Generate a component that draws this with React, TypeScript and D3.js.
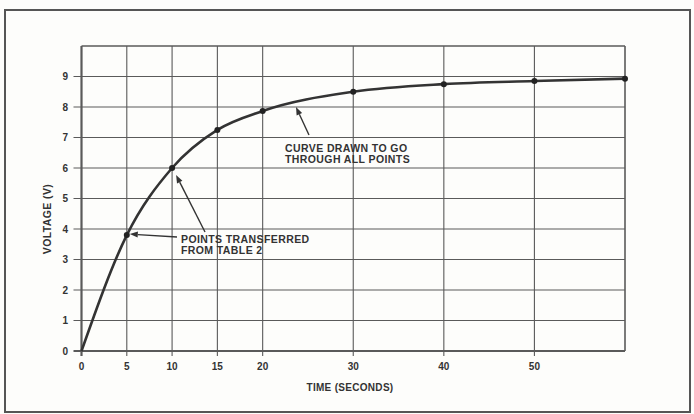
import React from "react";
import * as d3 from "d3";

const times = [0, 5, 10, 15, 20, 30, 40, 50, 60];
const volts = [0, 3.8, 6.0, 7.25, 7.87, 8.5, 8.75, 8.85, 8.93];
const xTicks = [0, 5, 10, 15, 20, 30, 40, 50];
const xTickLabels = ["0", "5", "10", "15", "20", "30", "40", "50"];
const yTicks = [0, 1, 2, 3, 4, 5, 6, 7, 8, 9];
const curveNote = ["CURVE DRAWN TO GO", "THROUGH ALL POINTS"];
const pointsNote = ["POINTS TRANSFERRED", "FROM TABLE 2"];
const xTitle = "TIME (SECONDS)";
const yTitle = "VOLTAGE (V)";

const W = 694;
const H = 414;
const left = 81.5;
const right = 625;
const top = 46;
const bottom = 351;

export default function App() {
  const x = d3.scaleLinear().domain([0, 60]).range([left, right]);
  const y = d3.scaleLinear().domain([0, 10]).range([bottom, top]);
  const pts = times.map((t, i) => [t, volts[i]] as [number, number]);
  const line = d3
    .line<[number, number]>()
    .x((d) => x(d[0]))
    .y((d) => y(d[1]))
    .curve(d3.curveMonotoneX);

  const ink = "#333";
  const grid = "#5a5a5a";
  const font = "'Liberation Sans', Arial, sans-serif";

  const arrow = (x1: number, y1: number, x2: number, y2: number, key: string) => {
    const ang = Math.atan2(y2 - y1, x2 - x1);
    const L = 8;
    const Wd = 3;
    const bx = x2 - L * Math.cos(ang);
    const by = y2 - L * Math.sin(ang);
    const px = -Math.sin(ang) * Wd;
    const py = Math.cos(ang) * Wd;
    return (
      <g key={key}>
        <line x1={x1} y1={y1} x2={bx} y2={by} stroke={ink} strokeWidth={1.4} />
        <polygon
          points={`${x2},${y2} ${bx + px},${by + py} ${bx - px},${by - py}`}
          fill={ink}
        />
      </g>
    );
  };

  return (
    <svg
      width={W}
      height={H}
      style={{ position: "absolute", left: 0, top: 0, background: "#fdfdfb" }}
    >
      <rect x={5} y={10} width={685} height={402} fill="none" stroke="#555" strokeWidth={2} />
      {yTicks.map((v) => (
        <line
          key={"h" + v}
          x1={left - 8}
          x2={right}
          y1={y(v)}
          y2={y(v)}
          stroke={grid}
          strokeWidth={v === 0 ? 2.2 : 1.1}
        />
      ))}
      {xTicks.map((v) => (
        <line
          key={"v" + v}
          x1={x(v)}
          x2={x(v)}
          y1={top}
          y2={bottom + 5}
          stroke={grid}
          strokeWidth={v === 0 ? 2.2 : 1.1}
        />
      ))}
      <line x1={left} x2={right} y1={top} y2={top} stroke={grid} strokeWidth={1.4} />
      <line x1={right} x2={right} y1={top} y2={bottom} stroke={grid} strokeWidth={1.6} />
      {yTicks.map((v) => (
        <text
          key={"yl" + v}
          x={68}
          y={y(v)}
          dy="0.35em"
          textAnchor="end"
          fontFamily={font}
          fontWeight="bold"
          fontSize={10}
          fill={ink}
        >
          {v}
        </text>
      ))}
      {xTicks.map((v, i) => (
        <text
          key={"xl" + v}
          x={x(v)}
          y={366}
          dy="0.35em"
          textAnchor="middle"
          fontFamily={font}
          fontWeight="bold"
          fontSize={10}
          fill={ink}
        >
          {xTickLabels[i]}
        </text>
      ))}
      <text
        x={350}
        y={387}
        dy="0.35em"
        textAnchor="middle"
        fontFamily={font}
        fontWeight="bold"
        fontSize={10}
        letterSpacing={0.3}
        fill={ink}
      >
        {xTitle}
      </text>
      <text
        transform={`translate(47,219) rotate(-90)`}
        dy="0.35em"
        textAnchor="middle"
        fontFamily={font}
        fontWeight="bold"
        fontSize={10.5}
        letterSpacing={0.4}
        fill={ink}
      >
        {yTitle}
      </text>
      <path d={line(pts) || ""} fill="none" stroke="#333" strokeWidth={2.6} />
      {pts.slice(1).map((d, i) => (
        <circle key={"p" + i} cx={x(d[0])} cy={y(d[1])} r={3} fill="#222" />
      ))}
      {arrow(177, 237, x(5) + 3, y(3.8) - 1, "a1")}
      {arrow(205, 232, x(10) + 4, y(6) + 7, "a2")}
      {arrow(309, 135, 296, 107, "a3")}
      {curveNote.map((s, i) => (
        <text
          key={"c" + i}
          x={285}
          y={148 + i * 11}
          dy="0.35em"
          fontFamily={font}
          fontWeight="bold"
          fontSize={10.5}
          letterSpacing={0.4}
          fill={ink}
        >
          {s}
        </text>
      ))}
      {pointsNote.map((s, i) => (
        <text
          key={"pn" + i}
          x={181}
          y={239 + i * 11}
          dy="0.35em"
          fontFamily={font}
          fontWeight="bold"
          fontSize={10.5}
          letterSpacing={0.4}
          fill={ink}
        >
          {s}
        </text>
      ))}
    </svg>
  );
}
